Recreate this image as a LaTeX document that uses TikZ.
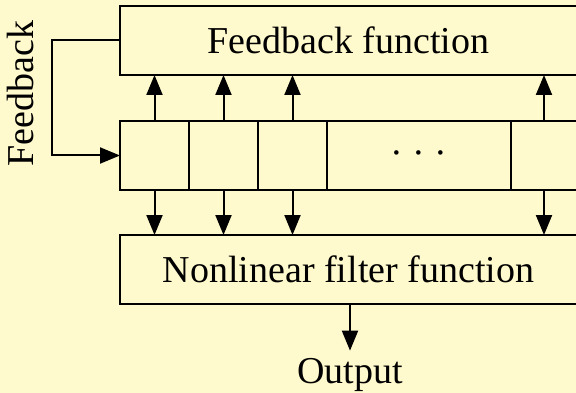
\documentclass[tikz,border=0pt]{standalone}
\usepackage{fontspec}
\setmainfont{Liberation Serif}
\usetikzlibrary{arrows.meta}
\definecolor{paper}{RGB}{255,250,205}
\begin{document}
\begin{tikzpicture}[x=1pt,y=-1pt,
  box/.style={draw=black, line width=2pt, fill=paper, inner sep=0pt, outer sep=0pt},
  lbl/.style={font=\fontsize{38}{44}\selectfont, inner sep=0pt},
  link/.style={line width=2pt, -{Triangle[length=20pt,width=16pt]}}]
\clip (0,0) rectangle (576,393);
\fill[paper] (0,0) rectangle (576,393);

% feedback function block
\node[box, anchor=north west, minimum width=457pt, minimum height=69pt] (fb) at (120,6) {};
\node[lbl] (fbt) at (fb) {Feedback function};

% shift register cells
\node[box, anchor=north west, minimum width=69pt, minimum height=69pt] (c1) at (120,121) {};
\node[box, anchor=north west, minimum width=69pt, minimum height=69pt] (c2) at (189,121) {};
\node[box, anchor=north west, minimum width=69pt, minimum height=69pt] (c3) at (258,121) {};
\node[box, anchor=north west, minimum width=184pt, minimum height=69pt] (c4) at (327,121) {};
\node[box, anchor=north west, minimum width=66pt, minimum height=69pt] (c5) at (511,121) {};
\node[lbl] (dots) at ([yshift=-3pt]c4.center) {· · ·};

% nonlinear filter block
\node[box, anchor=north west, minimum width=457pt, minimum height=69pt] (nl) at (120,235) {};
\node[lbl] (nlt) at (nl) {Nonlinear filter function};

% output and feedback labels
\node[lbl, anchor=base] (out) at (350,383) {Output};
\node[lbl, rotate=90, anchor=base] (fbl) at (34,93.5) {Feedback};

% taps
\foreach \c in {c1,c2,c3,c5} {
  \draw[link] (\c.north) -- (\c.north |- fb.south);
  \draw[link] (\c.south) -- (\c.south |- nl.north);
}

% output arrow
\draw[link, shorten >=7pt] (nl.south -| out.north) -- (out.north);

% feedback loop
\coordinate (bend) at (52,0);
\draw[link] (fb.west) -- (fb.west -| bend) -- (c1.west -| bend) -- (c1.west);
\end{tikzpicture}
\end{document}
